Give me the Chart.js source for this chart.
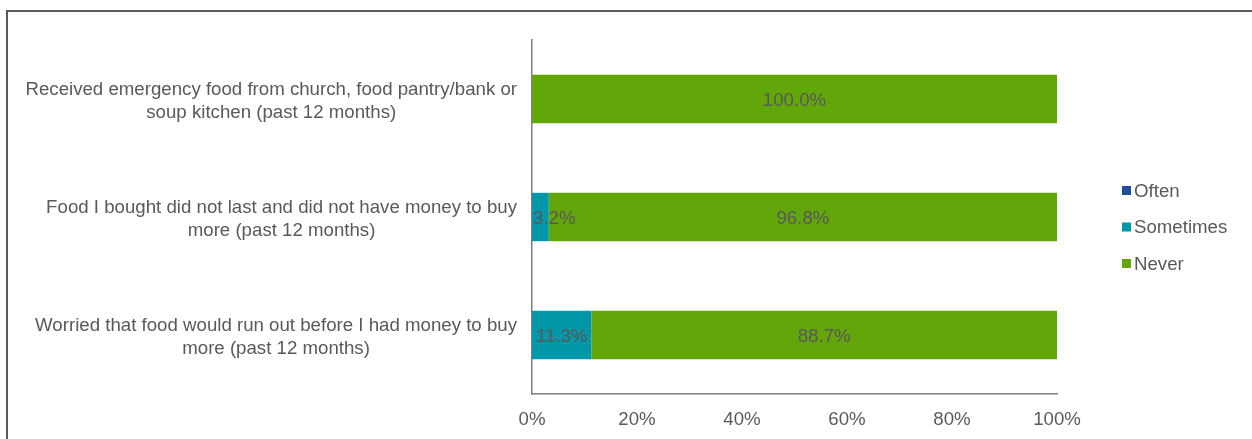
<!DOCTYPE html>
<html>
<head>
<meta charset="utf-8">
<script src="https://cdn.jsdelivr.net/npm/chart.js@4/dist/chart.umd.min.js"></script>
<style>
  html, body { margin: 0; padding: 0; background: #fff; }
  #wrap { position: relative; width: 1252px; height: 439px; overflow: hidden; }
  #frame { position: absolute; left: 6px; top: 10px; width: 1300px; height: 500px;
           border-top: 2px solid #595959; border-left: 2px solid #595959; }
  canvas { position: absolute; left: 0; top: 0; }
</style>
</head>
<body>
<div id="wrap">
  <div id="frame"></div>
  <canvas id="chart" width="1252" height="439"></canvas>
</div>
<script>
const categories = [
  ["Received emergency food from church, food pantry/bank or", "soup kitchen (past 12 months)"],
  ["Food I bought did not last and did not have money to buy", "more (past 12 months)"],
  ["Worried that food would run out before I had money to buy", "more (past 12 months)"]
];
const seriesNames = ["Often", "Sometimes", "Never"];
const often = [0, 0, 0];
const sometimes = [0, 3.2, 11.3];
const never = [100, 96.8, 88.7];
const xTicks = [0, 20, 40, 60, 80, 100];

const colors = ["#1f4e99", "#0097a9", "#63a60a"];
const textColor = "#595959";
const fontFamily = "'Liberation Sans', Arial, sans-serif";
const fontSize = 18.67;

// category labels drawn next to the y axis, each label's lines centred on its longest line
const yLabels = {
  id: 'yLabels',
  afterDraw(chart) {
    const ctx = chart.ctx;
    const y = chart.scales.y;
    const right = 517;
    ctx.save();
    ctx.font = fontSize + "px " + fontFamily;
    ctx.fillStyle = textColor;
    ctx.textAlign = "center";
    ctx.textBaseline = "middle";
    categories.forEach((lines, i) => {
      const cy = y.getPixelForValue(i) + 2;
      const maxW = Math.max(...lines.map(l => ctx.measureText(l).width));
      const cx = right - maxW / 2;
      const lh = 23;
      lines.forEach((l, j) => {
        ctx.fillText(l, cx, cy + (j - (lines.length - 1) / 2) * lh);
      });
    });
    ctx.restore();
  }
};

// value labels in the middle of each segment
const valueLabels = {
  id: 'valueLabels',
  afterDatasetsDraw(chart) {
    const ctx = chart.ctx;
    ctx.save();
    ctx.font = fontSize + "px " + fontFamily;
    ctx.fillStyle = textColor;
    ctx.textAlign = "center";
    ctx.textBaseline = "middle";
    chart.data.datasets.forEach((ds, di) => {
      chart.getDatasetMeta(di).data.forEach((bar, i) => {
        const v = ds.data[i];
        if (!v) return;
        const txt = v.toFixed(1) + "%";
        const w = ctx.measureText(txt).width;
        const left = Math.min(bar.x, bar.base);
        let cx = (bar.x + bar.base) / 2;
        cx = Math.max(cx, left + w / 2 + 1);
        ctx.fillText(txt, cx, bar.y + 1.5);
      });
    });
    ctx.restore();
  }
};

// legend on the right
const sideLegend = {
  id: 'sideLegend',
  afterDraw(chart) {
    const ctx = chart.ctx;
    ctx.save();
    ctx.font = fontSize + "px " + fontFamily;
    ctx.textBaseline = "middle";
    ctx.textAlign = "left";
    const x0 = 1122, y0 = 190.5, gap = 36.5;
    chart.data.datasets.forEach((ds, i) => {
      const cy = y0 + i * gap;
      ctx.fillStyle = ds.backgroundColor;
      ctx.fillRect(x0, cy - 4.5, 9, 9);
      ctx.fillStyle = textColor;
      ctx.fillText(ds.label, x0 + 12, cy + 1);
    });
    ctx.restore();
  }
};

const seriesData = [often, sometimes, never];

new Chart(document.getElementById('chart'), {
  type: 'bar',
  data: {
    labels: categories,
    datasets: seriesNames.map((name, i) => ({
      label: name,
      data: seriesData[i],
      backgroundColor: colors[i],
      barPercentage: 0.41,
      categoryPercentage: 1
    }))
  },
  options: {
    indexAxis: 'y',
    responsive: false,
    animation: false,
    layout: { padding: { left: 532, right: 195, top: 40, bottom: 9 } },
    plugins: {
      legend: { display: false },
      tooltip: { enabled: false }
    },
    scales: {
      x: {
        stacked: true,
        min: 0,
        max: 100,
        afterBuildTicks(scale) { scale.ticks = xTicks.map(v => ({ value: v })); },
        afterFit(scale) { scale.height = 36; },
        grid: { display: false, drawTicks: false },
        border: { display: true, color: '#7f7f7f', width: 1.5 },
        ticks: {
          padding: 15,
          color: textColor,
          font: { size: fontSize, family: fontFamily },
          callback: v => v + '%'
        }
      },
      y: {
        stacked: true,
        grid: { display: false, drawTicks: false },
        border: { display: true, color: '#7f7f7f', width: 1.5 },
        ticks: { display: false }
      }
    }
  },
  plugins: [yLabels, valueLabels, sideLegend]
});
</script>
</body>
</html>
